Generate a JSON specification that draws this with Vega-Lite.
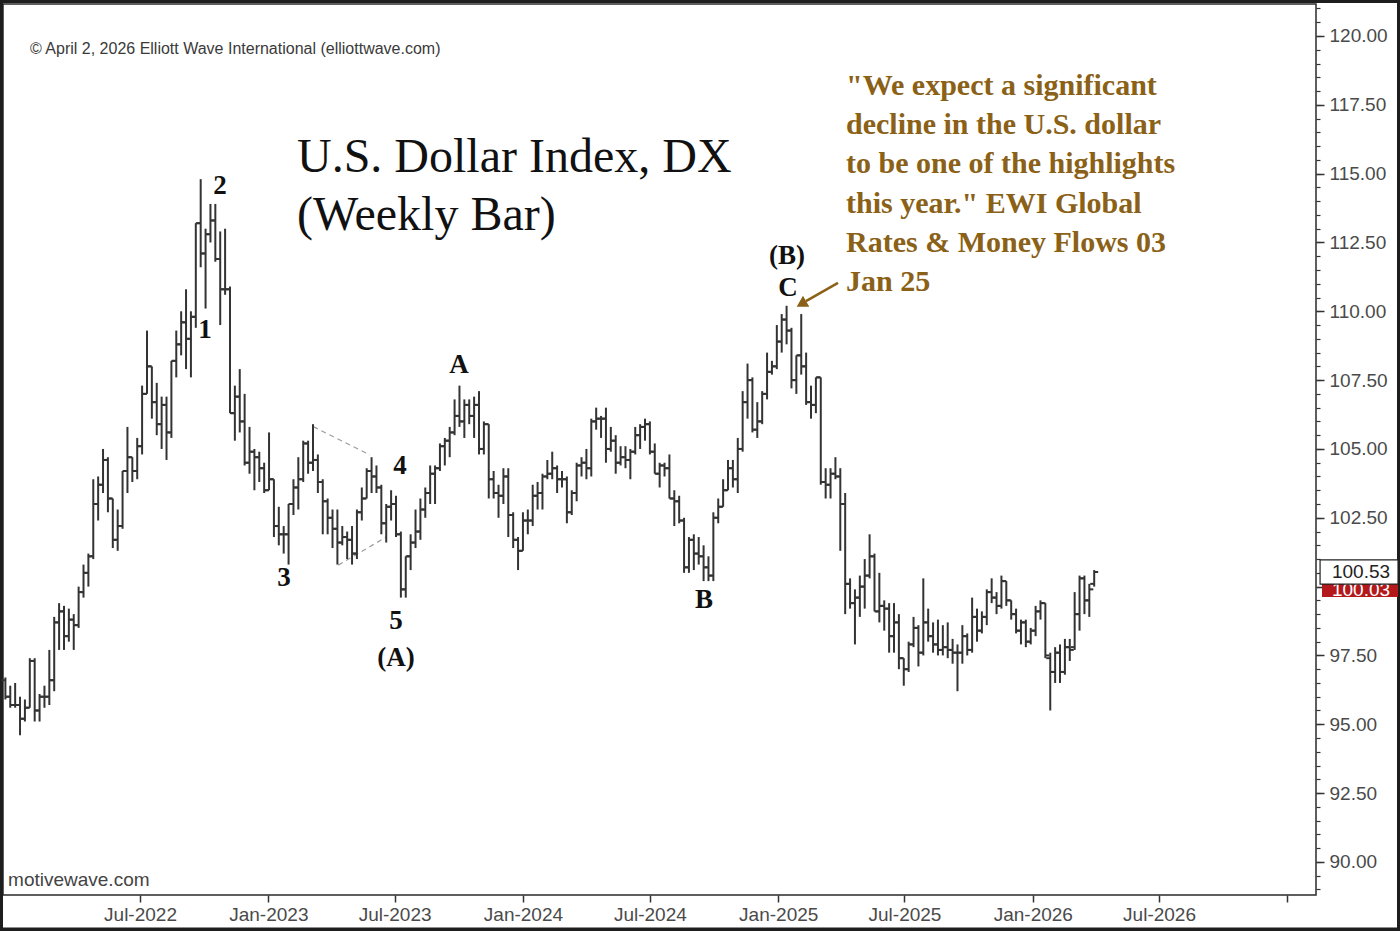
{
  "$schema": "https://vega.github.io/schema/vega-lite/v6.json",
  "description": "U.S. Dollar Index (DX) weekly OHLC bars with Elliott wave labels.",
  "width": 1313,
  "height": 891,
  "autosize": "none",
  "padding": {"left": 3, "top": 4, "right": 84, "bottom": 36},
  "background": "white",
  "config": {"view": {"stroke": "#2a2a2a", "strokeWidth": 1.5}},
  "datasets": {
    "bars": [
      {"d":"2021-12-20","o":96.6,"h":96.7,"l":95.9,"c":96.0},
      {"d":"2021-12-27","o":96.0,"h":96.4,"l":95.6,"c":95.7},
      {"d":"2022-01-03","o":95.7,"h":96.5,"l":95.6,"c":95.7},
      {"d":"2022-01-10","o":95.7,"h":96.0,"l":94.6,"c":95.2},
      {"d":"2022-01-17","o":95.2,"h":95.9,"l":95.1,"c":95.6},
      {"d":"2022-01-24","o":95.6,"h":97.4,"l":95.6,"c":97.3},
      {"d":"2022-01-31","o":97.3,"h":97.4,"l":95.1,"c":95.5},
      {"d":"2022-02-07","o":95.5,"h":96.1,"l":95.1,"c":96.0},
      {"d":"2022-02-14","o":96.0,"h":96.4,"l":95.6,"c":96.0},
      {"d":"2022-02-21","o":96.0,"h":97.7,"l":95.7,"c":96.6},
      {"d":"2022-02-28","o":96.6,"h":98.9,"l":96.2,"c":98.7},
      {"d":"2022-03-07","o":98.7,"h":99.4,"l":97.7,"c":99.1},
      {"d":"2022-03-14","o":99.1,"h":99.3,"l":97.7,"c":98.2},
      {"d":"2022-03-21","o":98.2,"h":99.2,"l":98.0,"c":98.8},
      {"d":"2022-03-28","o":98.8,"h":99.0,"l":97.7,"c":98.6},
      {"d":"2022-04-04","o":98.6,"h":100.0,"l":98.5,"c":99.8},
      {"d":"2022-04-11","o":99.8,"h":100.8,"l":99.6,"c":100.5},
      {"d":"2022-04-18","o":100.5,"h":101.2,"l":100.0,"c":101.1},
      {"d":"2022-04-25","o":101.1,"h":103.9,"l":101.0,"c":103.0},
      {"d":"2022-05-02","o":103.0,"h":104.0,"l":102.4,"c":103.7},
      {"d":"2022-05-09","o":103.7,"h":105.0,"l":103.4,"c":104.6},
      {"d":"2022-05-16","o":104.6,"h":104.7,"l":102.7,"c":103.2},
      {"d":"2022-05-23","o":103.2,"h":103.2,"l":101.4,"c":101.7},
      {"d":"2022-05-30","o":101.7,"h":102.8,"l":101.3,"c":102.2},
      {"d":"2022-06-06","o":102.2,"h":104.2,"l":102.1,"c":104.2},
      {"d":"2022-06-13","o":104.2,"h":105.8,"l":103.4,"c":104.7},
      {"d":"2022-06-20","o":104.7,"h":104.7,"l":103.8,"c":104.2},
      {"d":"2022-06-27","o":104.2,"h":105.4,"l":103.9,"c":105.1},
      {"d":"2022-07-04","o":105.1,"h":107.3,"l":104.8,"c":107.0},
      {"d":"2022-07-11","o":107.0,"h":109.3,"l":107.0,"c":108.0},
      {"d":"2022-07-18","o":108.0,"h":108.0,"l":106.1,"c":106.7},
      {"d":"2022-07-25","o":106.7,"h":107.4,"l":105.5,"c":105.9},
      {"d":"2022-08-01","o":105.9,"h":106.9,"l":105.0,"c":106.6},
      {"d":"2022-08-08","o":106.6,"h":106.9,"l":104.6,"c":105.6},
      {"d":"2022-08-15","o":105.6,"h":108.2,"l":105.4,"c":108.2},
      {"d":"2022-08-22","o":108.2,"h":109.3,"l":107.6,"c":108.8},
      {"d":"2022-08-29","o":108.8,"h":110.0,"l":108.4,"c":109.6},
      {"d":"2022-09-05","o":109.6,"h":110.8,"l":107.9,"c":109.0},
      {"d":"2022-09-12","o":109.0,"h":110.0,"l":107.6,"c":109.8},
      {"d":"2022-09-19","o":109.8,"h":113.2,"l":109.4,"c":113.2},
      {"d":"2022-09-26","o":113.2,"h":114.8,"l":111.6,"c":112.1},
      {"d":"2022-10-03","o":112.1,"h":113.0,"l":110.1,"c":112.8},
      {"d":"2022-10-10","o":112.8,"h":113.9,"l":112.5,"c":113.3},
      {"d":"2022-10-17","o":113.3,"h":113.9,"l":111.8,"c":111.9},
      {"d":"2022-10-24","o":111.9,"h":112.9,"l":109.5,"c":110.8},
      {"d":"2022-10-31","o":110.8,"h":113.0,"l":110.6,"c":110.8},
      {"d":"2022-11-07","o":110.8,"h":110.9,"l":106.3,"c":106.3},
      {"d":"2022-11-14","o":106.3,"h":107.3,"l":105.3,"c":106.9},
      {"d":"2022-11-21","o":106.9,"h":107.9,"l":105.6,"c":106.0},
      {"d":"2022-11-28","o":106.0,"h":107.0,"l":104.4,"c":104.5},
      {"d":"2022-12-05","o":104.5,"h":105.8,"l":104.1,"c":104.9},
      {"d":"2022-12-12","o":104.9,"h":105.0,"l":103.5,"c":104.7},
      {"d":"2022-12-19","o":104.7,"h":104.9,"l":103.8,"c":104.3},
      {"d":"2022-12-26","o":104.3,"h":104.5,"l":103.4,"c":103.5},
      {"d":"2023-01-02","o":103.5,"h":105.6,"l":103.5,"c":103.9},
      {"d":"2023-01-09","o":103.9,"h":103.9,"l":101.8,"c":102.2},
      {"d":"2023-01-16","o":102.2,"h":102.9,"l":101.5,"c":101.9},
      {"d":"2023-01-23","o":101.9,"h":102.2,"l":101.2,"c":101.9},
      {"d":"2023-01-30","o":101.9,"h":103.0,"l":100.8,"c":103.0},
      {"d":"2023-02-06","o":103.0,"h":103.9,"l":102.6,"c":103.6},
      {"d":"2023-02-13","o":103.6,"h":104.7,"l":102.8,"c":103.9},
      {"d":"2023-02-20","o":103.9,"h":105.3,"l":103.8,"c":105.2},
      {"d":"2023-02-27","o":105.2,"h":105.3,"l":104.1,"c":104.5},
      {"d":"2023-03-06","o":104.5,"h":105.9,"l":104.2,"c":104.6},
      {"d":"2023-03-13","o":104.6,"h":104.8,"l":103.4,"c":103.8},
      {"d":"2023-03-20","o":103.8,"h":103.9,"l":101.9,"c":103.1},
      {"d":"2023-03-27","o":103.1,"h":103.2,"l":101.9,"c":102.5},
      {"d":"2023-04-03","o":102.5,"h":102.8,"l":101.4,"c":102.1},
      {"d":"2023-04-10","o":102.1,"h":102.8,"l":100.8,"c":101.6},
      {"d":"2023-04-17","o":101.6,"h":102.2,"l":101.5,"c":101.8},
      {"d":"2023-04-24","o":101.8,"h":102.0,"l":101.0,"c":101.7},
      {"d":"2023-05-01","o":101.7,"h":102.2,"l":100.8,"c":101.2},
      {"d":"2023-05-08","o":101.2,"h":102.8,"l":101.0,"c":102.7},
      {"d":"2023-05-15","o":102.7,"h":103.6,"l":102.4,"c":103.2},
      {"d":"2023-05-22","o":103.2,"h":104.3,"l":103.2,"c":104.2},
      {"d":"2023-05-29","o":104.2,"h":104.7,"l":103.4,"c":104.0},
      {"d":"2023-06-05","o":104.0,"h":104.4,"l":103.4,"c":103.6},
      {"d":"2023-06-12","o":103.6,"h":103.7,"l":101.9,"c":102.3},
      {"d":"2023-06-19","o":102.3,"h":103.0,"l":101.6,"c":102.9},
      {"d":"2023-06-26","o":102.9,"h":103.5,"l":102.4,"c":103.0},
      {"d":"2023-07-03","o":103.0,"h":103.3,"l":101.8,"c":101.9},
      {"d":"2023-07-10","o":101.9,"h":102.0,"l":99.6,"c":99.9},
      {"d":"2023-07-17","o":99.9,"h":101.1,"l":99.6,"c":101.1},
      {"d":"2023-07-24","o":101.1,"h":101.9,"l":100.6,"c":101.6},
      {"d":"2023-07-31","o":101.6,"h":102.8,"l":101.4,"c":102.0},
      {"d":"2023-08-07","o":102.0,"h":103.2,"l":101.7,"c":102.8},
      {"d":"2023-08-14","o":102.8,"h":103.6,"l":102.5,"c":103.4},
      {"d":"2023-08-21","o":103.4,"h":104.4,"l":103.0,"c":104.1},
      {"d":"2023-08-28","o":104.1,"h":104.4,"l":103.0,"c":104.3},
      {"d":"2023-09-04","o":104.3,"h":105.2,"l":104.2,"c":105.1},
      {"d":"2023-09-11","o":105.1,"h":105.4,"l":104.4,"c":105.3},
      {"d":"2023-09-18","o":105.3,"h":105.8,"l":104.7,"c":105.6},
      {"d":"2023-09-25","o":105.6,"h":106.8,"l":105.5,"c":106.2},
      {"d":"2023-10-02","o":106.2,"h":107.3,"l":105.8,"c":106.0},
      {"d":"2023-10-09","o":106.0,"h":106.8,"l":105.4,"c":106.6},
      {"d":"2023-10-16","o":106.6,"h":106.8,"l":105.9,"c":106.2},
      {"d":"2023-10-23","o":106.2,"h":106.9,"l":105.4,"c":106.6},
      {"d":"2023-10-30","o":106.6,"h":107.1,"l":104.8,"c":105.0},
      {"d":"2023-11-06","o":105.0,"h":106.0,"l":104.8,"c":105.9},
      {"d":"2023-11-13","o":105.9,"h":105.9,"l":103.2,"c":103.9},
      {"d":"2023-11-20","o":103.9,"h":104.2,"l":103.2,"c":103.4},
      {"d":"2023-11-27","o":103.4,"h":103.7,"l":102.5,"c":103.3},
      {"d":"2023-12-04","o":103.3,"h":104.3,"l":103.0,"c":104.0},
      {"d":"2023-12-11","o":104.0,"h":104.3,"l":101.8,"c":102.6},
      {"d":"2023-12-18","o":102.6,"h":102.7,"l":101.4,"c":101.7},
      {"d":"2023-12-25","o":101.7,"h":101.8,"l":100.6,"c":101.3},
      {"d":"2024-01-01","o":101.3,"h":102.7,"l":101.3,"c":102.4},
      {"d":"2024-01-08","o":102.4,"h":102.8,"l":101.9,"c":102.4},
      {"d":"2024-01-15","o":102.4,"h":103.7,"l":102.2,"c":103.3},
      {"d":"2024-01-22","o":103.3,"h":103.8,"l":102.8,"c":103.4},
      {"d":"2024-01-29","o":103.4,"h":104.1,"l":102.8,"c":104.0},
      {"d":"2024-02-05","o":104.0,"h":104.6,"l":103.9,"c":104.1},
      {"d":"2024-02-12","o":104.1,"h":104.9,"l":103.9,"c":104.3},
      {"d":"2024-02-19","o":104.3,"h":104.4,"l":103.4,"c":103.9},
      {"d":"2024-02-26","o":103.9,"h":104.2,"l":103.6,"c":103.9},
      {"d":"2024-03-04","o":103.9,"h":104.0,"l":102.3,"c":102.7},
      {"d":"2024-03-11","o":102.7,"h":103.5,"l":102.6,"c":103.4},
      {"d":"2024-03-18","o":103.4,"h":104.5,"l":103.1,"c":104.4},
      {"d":"2024-03-25","o":104.4,"h":104.7,"l":104.0,"c":104.5},
      {"d":"2024-04-01","o":104.5,"h":105.0,"l":103.9,"c":104.3},
      {"d":"2024-04-08","o":104.3,"h":106.1,"l":104.0,"c":106.0},
      {"d":"2024-04-15","o":106.0,"h":106.5,"l":105.7,"c":106.1},
      {"d":"2024-04-22","o":106.1,"h":106.2,"l":105.4,"c":106.1},
      {"d":"2024-04-29","o":106.1,"h":106.5,"l":104.5,"c":105.0},
      {"d":"2024-05-06","o":105.0,"h":105.8,"l":104.9,"c":105.3},
      {"d":"2024-05-13","o":105.3,"h":105.5,"l":104.1,"c":104.5},
      {"d":"2024-05-20","o":104.5,"h":105.1,"l":104.4,"c":104.7},
      {"d":"2024-05-27","o":104.7,"h":105.1,"l":104.3,"c":104.6},
      {"d":"2024-06-03","o":104.6,"h":105.0,"l":103.9,"c":104.9},
      {"d":"2024-06-10","o":104.9,"h":105.8,"l":104.8,"c":105.5},
      {"d":"2024-06-17","o":105.5,"h":105.9,"l":105.0,"c":105.8},
      {"d":"2024-06-24","o":105.8,"h":106.1,"l":105.3,"c":105.9},
      {"d":"2024-07-01","o":105.9,"h":106.0,"l":104.8,"c":104.9},
      {"d":"2024-07-08","o":104.9,"h":105.2,"l":104.1,"c":104.1},
      {"d":"2024-07-15","o":104.1,"h":104.5,"l":103.6,"c":104.4},
      {"d":"2024-07-22","o":104.4,"h":104.5,"l":104.0,"c":104.3},
      {"d":"2024-07-29","o":104.3,"h":104.8,"l":103.2,"c":103.2},
      {"d":"2024-08-05","o":103.2,"h":103.5,"l":102.2,"c":103.1},
      {"d":"2024-08-12","o":103.1,"h":103.3,"l":102.3,"c":102.4},
      {"d":"2024-08-19","o":102.4,"h":102.5,"l":100.5,"c":100.7},
      {"d":"2024-08-26","o":100.7,"h":101.8,"l":100.5,"c":101.7},
      {"d":"2024-09-02","o":101.7,"h":101.9,"l":100.6,"c":101.2},
      {"d":"2024-09-09","o":101.2,"h":101.8,"l":100.8,"c":101.1},
      {"d":"2024-09-16","o":101.1,"h":101.5,"l":100.2,"c":100.7},
      {"d":"2024-09-23","o":100.7,"h":101.1,"l":100.2,"c":100.4},
      {"d":"2024-09-30","o":100.4,"h":102.7,"l":100.2,"c":102.5},
      {"d":"2024-10-07","o":102.5,"h":103.2,"l":102.3,"c":102.9},
      {"d":"2024-10-14","o":102.9,"h":103.9,"l":102.9,"c":103.5},
      {"d":"2024-10-21","o":103.5,"h":104.6,"l":103.5,"c":104.3},
      {"d":"2024-10-28","o":104.3,"h":104.6,"l":103.6,"c":103.9},
      {"d":"2024-11-04","o":103.9,"h":105.4,"l":103.4,"c":105.0},
      {"d":"2024-11-11","o":105.0,"h":107.1,"l":104.9,"c":106.7},
      {"d":"2024-11-18","o":106.7,"h":108.1,"l":106.1,"c":107.5},
      {"d":"2024-11-25","o":107.5,"h":107.6,"l":105.6,"c":105.7},
      {"d":"2024-12-02","o":105.7,"h":106.7,"l":105.4,"c":106.0},
      {"d":"2024-12-09","o":106.0,"h":107.1,"l":105.9,"c":107.0},
      {"d":"2024-12-16","o":107.0,"h":108.5,"l":106.8,"c":107.8},
      {"d":"2024-12-23","o":107.8,"h":108.2,"l":107.7,"c":108.0},
      {"d":"2024-12-30","o":108.0,"h":109.5,"l":107.9,"c":108.9},
      {"d":"2025-01-06","o":108.9,"h":109.9,"l":108.5,"c":109.7},
      {"d":"2025-01-13","o":109.7,"h":110.2,"l":108.8,"c":109.3},
      {"d":"2025-01-20","o":109.3,"h":109.4,"l":107.2,"c":107.5},
      {"d":"2025-01-27","o":107.5,"h":108.4,"l":107.0,"c":108.4},
      {"d":"2025-02-03","o":108.4,"h":109.9,"l":107.7,"c":108.0},
      {"d":"2025-02-10","o":108.0,"h":108.5,"l":106.6,"c":106.7},
      {"d":"2025-02-17","o":106.7,"h":107.3,"l":106.1,"c":106.6},
      {"d":"2025-02-24","o":106.6,"h":107.6,"l":106.3,"c":107.6},
      {"d":"2025-03-03","o":107.6,"h":107.6,"l":103.7,"c":103.8},
      {"d":"2025-03-10","o":103.8,"h":104.3,"l":103.2,"c":103.7},
      {"d":"2025-03-17","o":103.7,"h":104.3,"l":103.2,"c":104.1},
      {"d":"2025-03-24","o":104.1,"h":104.7,"l":103.9,"c":104.0},
      {"d":"2025-03-31","o":104.0,"h":104.3,"l":101.3,"c":103.0},
      {"d":"2025-04-07","o":103.0,"h":103.4,"l":99.0,"c":100.1},
      {"d":"2025-04-14","o":100.1,"h":100.3,"l":99.2,"c":99.4},
      {"d":"2025-04-21","o":99.4,"h":99.9,"l":97.9,"c":99.6},
      {"d":"2025-04-28","o":99.6,"h":100.4,"l":98.9,"c":100.0},
      {"d":"2025-05-05","o":100.0,"h":101.0,"l":99.2,"c":100.4},
      {"d":"2025-05-12","o":100.4,"h":101.9,"l":100.3,"c":101.1},
      {"d":"2025-05-19","o":101.1,"h":101.2,"l":99.1,"c":99.1},
      {"d":"2025-05-26","o":99.1,"h":100.5,"l":98.7,"c":99.3},
      {"d":"2025-06-02","o":99.3,"h":99.5,"l":98.4,"c":99.2},
      {"d":"2025-06-09","o":99.2,"h":99.4,"l":97.6,"c":98.2},
      {"d":"2025-06-16","o":98.2,"h":99.4,"l":97.6,"c":98.7},
      {"d":"2025-06-23","o":98.7,"h":99.0,"l":97.0,"c":97.4},
      {"d":"2025-06-30","o":97.4,"h":97.4,"l":96.4,"c":97.0},
      {"d":"2025-07-07","o":97.0,"h":98.0,"l":96.9,"c":97.9},
      {"d":"2025-07-14","o":97.9,"h":98.9,"l":97.8,"c":98.5},
      {"d":"2025-07-21","o":98.5,"h":98.6,"l":97.1,"c":97.6},
      {"d":"2025-07-28","o":97.6,"h":100.3,"l":97.5,"c":98.7},
      {"d":"2025-08-04","o":98.7,"h":99.2,"l":98.0,"c":98.2},
      {"d":"2025-08-11","o":98.2,"h":98.7,"l":97.6,"c":97.9},
      {"d":"2025-08-18","o":97.9,"h":98.8,"l":97.5,"c":97.7},
      {"d":"2025-08-25","o":97.7,"h":98.6,"l":97.5,"c":97.8},
      {"d":"2025-09-01","o":97.8,"h":98.7,"l":97.4,"c":97.7},
      {"d":"2025-09-08","o":97.7,"h":98.1,"l":97.2,"c":97.6},
      {"d":"2025-09-15","o":97.6,"h":97.9,"l":96.2,"c":97.6},
      {"d":"2025-09-22","o":97.6,"h":98.6,"l":97.2,"c":98.2},
      {"d":"2025-09-29","o":98.2,"h":98.3,"l":97.5,"c":97.7},
      {"d":"2025-10-06","o":97.7,"h":99.6,"l":97.6,"c":98.9},
      {"d":"2025-10-13","o":98.9,"h":99.2,"l":98.0,"c":98.4},
      {"d":"2025-10-20","o":98.4,"h":99.1,"l":98.3,"c":98.9},
      {"d":"2025-10-27","o":98.9,"h":99.9,"l":98.6,"c":99.8},
      {"d":"2025-11-03","o":99.8,"h":100.3,"l":99.4,"c":99.6},
      {"d":"2025-11-10","o":99.6,"h":99.8,"l":99.0,"c":99.3},
      {"d":"2025-11-17","o":99.3,"h":100.4,"l":99.2,"c":100.2},
      {"d":"2025-11-24","o":100.2,"h":100.2,"l":99.3,"c":99.5},
      {"d":"2025-12-01","o":99.5,"h":99.5,"l":98.8,"c":99.0},
      {"d":"2025-12-08","o":99.0,"h":99.2,"l":98.3,"c":98.4},
      {"d":"2025-12-15","o":98.4,"h":98.8,"l":97.9,"c":98.7},
      {"d":"2025-12-22","o":98.7,"h":98.8,"l":97.8,"c":98.0},
      {"d":"2025-12-29","o":98.0,"h":98.5,"l":97.9,"c":98.4},
      {"d":"2026-01-05","o":98.4,"h":99.3,"l":98.2,"c":99.1},
      {"d":"2026-01-12","o":99.1,"h":99.5,"l":98.8,"c":99.4},
      {"d":"2026-01-19","o":99.4,"h":99.4,"l":97.4,"c":97.5},
      {"d":"2026-01-26","o":97.4,"h":97.6,"l":95.5,"c":96.9},
      {"d":"2026-02-02","o":96.9,"h":97.8,"l":96.5,"c":97.6},
      {"d":"2026-02-09","o":97.6,"h":97.9,"l":96.5,"c":96.9},
      {"d":"2026-02-16","o":96.9,"h":98.1,"l":96.8,"c":97.8},
      {"d":"2026-02-23","o":97.8,"h":98.1,"l":97.3,"c":97.7},
      {"d":"2026-03-02","o":97.8,"h":99.8,"l":97.7,"c":99.0},
      {"d":"2026-03-09","o":99.0,"h":100.4,"l":98.4,"c":100.3},
      {"d":"2026-03-16","o":100.3,"h":100.4,"l":99.0,"c":99.5},
      {"d":"2026-03-23","o":99.5,"h":100.1,"l":98.9,"c":99.9},
      {"d":"2026-03-30","o":100.1,"h":100.6,"l":100.0,"c":100.53}
    ],
    "channel": [
      {"seg":"top","d":"2023-03-06T12:00:00Z","v":105.81},
      {"seg":"top","d":"2023-05-26T16:00:00Z","v":104.78},
      {"seg":"bottom","d":"2023-04-11T08:00:00Z","v":100.78},
      {"seg":"bottom","d":"2023-06-19T16:00:00Z","v":101.81}
    ],
    "waves": [
      {"t":"2","d":"2022-10-23T16:00:00Z","v":114.55},
      {"t":"1","d":"2022-10-02T05:00:00Z","v":109.32},
      {"t":"3","d":"2023-01-23T12:00:00Z","v":100.31},
      {"t":"4","d":"2023-07-08T19:00:00Z","v":104.38},
      {"t":"5","d":"2023-07-03T00:00:00Z","v":98.75},
      {"t":"(A)","d":"2023-07-03T00:00:00Z","v":97.41},
      {"t":"A","d":"2023-10-01T07:00:00Z","v":108.05},
      {"t":"B","d":"2024-09-16T14:00:00Z","v":99.51},
      {"t":"(B)","d":"2025-01-13T14:00:00Z","v":112.01},
      {"t":"C","d":"2025-01-15T00:00:00Z","v":110.85}
    ],
    "title": [
      {"t":"U.S. Dollar Index, DX","d":"2023-02-11T02:00:00Z","v":115.06},
      {"t":"(Weekly Bar)","d":"2023-02-11T02:00:00Z","v":112.95}
    ],
    "quote": [
      {"t":"\"We expect a significant","d":"2025-04-08T05:00:00Z","v":117.857},
      {"t":"decline in the U.S. dollar","d":"2025-04-08T05:00:00Z","v":116.433},
      {"t":"to be one of the highlights","d":"2025-04-08T05:00:00Z","v":115.009},
      {"t":"this year.\" EWI Global","d":"2025-04-08T05:00:00Z","v":113.585},
      {"t":"Rates & Money Flows 03","d":"2025-04-08T05:00:00Z","v":112.161},
      {"t":"Jan 25","d":"2025-04-08T05:00:00Z","v":110.737}
    ],
    "arrow": [
      {"d":"2025-03-27T17:00:00Z","v":111.03},
      {"d":"2025-02-09T19:00:00Z","v":110.37}
    ],
    "arrowhead": [
      {"d":"2025-02-05T12:00:00Z","v":110.30}
    ]
  },
  "layer": [
    {
      "data": {"values": [{"d":"2021-12-13T17:00:00Z","d2":"2027-06-10T00:00:00Z","v":121.27,"v2":87.545}]},
      "mark": {"type": "rect", "fill": null, "stroke": "#1e1e1e", "strokeWidth": 4, "clip": false},
      "encoding": {
        "x": {"field": "d", "type": "temporal", "axis": null,
              "scale": {"type": "utc", "domain": [{"year":2021,"month":12,"date":16,"hours":14,"utc":true},{"year":2027,"month":2,"date":11,"utc":true}]}},
        "x2": {"field": "d2"},
        "y": {"field": "v", "type": "quantitative", "axis": null,
              "scale": {"domain": [88.798, 121.162], "nice": false, "zero": false}},
        "y2": {"field": "v2"}
      }
    },
    {
      "data": {"name": "channel"},
      "mark": {"type": "line", "color": "#9c9c9c", "strokeWidth": 1.2, "strokeDash": [5, 4]},
      "encoding": {
        "x": {"field": "d", "type": "temporal", "axis": null,
              "scale": {"type": "utc", "domain": [{"year":2021,"month":12,"date":16,"hours":14,"utc":true},{"year":2027,"month":2,"date":11,"utc":true}]}},
        "y": {"field": "v", "type": "quantitative", "axis": null,
              "scale": {"domain": [88.798, 121.162], "nice": false, "zero": false}},
        "detail": {"field": "seg"}
      }
    },
    {
      "data": {"name": "bars"},
      "mark": {"type": "rule", "color": "#333333", "strokeWidth": 2},
      "encoding": {
        "x": {"field": "d", "type": "temporal",
              "scale": {"type": "utc", "domain": [{"year":2021,"month":12,"date":16,"hours":14,"utc":true},{"year":2027,"month":2,"date":11,"utc":true}]},
              "axis": {"orient": "bottom", "title": null, "grid": false, "domain": false,
                       "values": [{"year":2022,"month":7,"date":1,"utc":true},{"year":2023,"month":1,"date":1,"utc":true},{"year":2023,"month":7,"date":1,"utc":true},{"year":2024,"month":1,"date":1,"utc":true},{"year":2024,"month":7,"date":1,"utc":true},{"year":2025,"month":1,"date":1,"utc":true},{"year":2025,"month":7,"date":1,"utc":true},{"year":2026,"month":1,"date":1,"utc":true},{"year":2026,"month":7,"date":1,"utc":true},{"year":2027,"month":1,"date":1,"utc":true}],
                       "format": "%b-%Y", "labelExpr": "utcyear(datum.value) > 2026 ? '' : datum.label",
                       "labelFont": "Liberation Sans", "labelFontSize": 19, "labelColor": "#4a4a4a",
                       "labelPadding": 3, "tickSize": 7, "tickColor": "#333333", "tickWidth": 1.5,
                       "labelOverlap": false, "labelBound": false, "labelFlush": false}},
        "y": {"field": "l", "type": "quantitative",
              "scale": {"domain": [88.798, 121.162], "nice": false, "zero": false},
              "axis": {"orient": "right", "title": null, "grid": false, "domain": false,
                       "values": [90, 92.5, 95, 97.5, 100, 102.5, 105, 107.5, 110, 112.5, 115, 117.5, 120],
                       "format": ".2f", "labelFont": "Liberation Sans", "labelFontSize": 19, "labelColor": "#4a4a4a",
                       "labelPadding": 5, "tickSize": 8, "tickColor": "#333333", "tickWidth": 1.5,
                       "labelOverlap": false, "labelBound": false, "labelFlush": false}},
        "y2": {"field": "h"}
      }
    },
    {
      "data": {"name": "bars"},
      "mark": {"type": "rule", "color": "#333333", "strokeWidth": 2, "xOffset": -4, "x2Offset": 0},
      "encoding": {
        "x": {"field": "d", "type": "temporal", "axis": null,
              "scale": {"type": "utc", "domain": [{"year":2021,"month":12,"date":16,"hours":14,"utc":true},{"year":2027,"month":2,"date":11,"utc":true}]}},
        "x2": {"field": "d"},
        "y": {"field": "o", "type": "quantitative",
              "scale": {"domain": [88.798, 121.162], "nice": false, "zero": false},
              "axis": {"orient": "right", "title": null, "grid": false, "domain": false, "labels": false,
                       "values": [89, 89.5, 90, 90.5, 91, 91.5, 92, 92.5, 93, 93.5, 94, 94.5, 95, 95.5, 96, 96.5, 97, 97.5, 98, 98.5, 99, 99.5, 100, 100.5, 101, 101.5, 102, 102.5, 103, 103.5, 104, 104.5, 105, 105.5, 106, 106.5, 107, 107.5, 108, 108.5, 109, 109.5, 110, 110.5, 111, 111.5, 112, 112.5, 113, 113.5, 114, 114.5, 115, 115.5, 116, 116.5, 117, 117.5, 118, 118.5, 119, 119.5, 120, 120.5, 121],
                       "tickSize": 4, "tickColor": "#333333", "tickWidth": 1.2}}
      }
    },
    {
      "data": {"name": "bars"},
      "mark": {"type": "rule", "color": "#333333", "strokeWidth": 2, "xOffset": 0, "x2Offset": 4},
      "encoding": {
        "x": {"field": "d", "type": "temporal", "axis": null,
              "scale": {"type": "utc", "domain": [{"year":2021,"month":12,"date":16,"hours":14,"utc":true},{"year":2027,"month":2,"date":11,"utc":true}]}},
        "x2": {"field": "d"},
        "y": {"field": "c", "type": "quantitative", "axis": null,
              "scale": {"domain": [88.798, 121.162], "nice": false, "zero": false}}
      }
    },
    {
      "data": {"name": "waves"},
      "mark": {"type": "text", "font": "Liberation Serif", "fontWeight": "bold", "fontSize": 27, "color": "#111111", "align": "center", "baseline": "middle"},
      "encoding": {
        "x": {"field": "d", "type": "temporal", "axis": null,
              "scale": {"type": "utc", "domain": [{"year":2021,"month":12,"date":16,"hours":14,"utc":true},{"year":2027,"month":2,"date":11,"utc":true}]}},
        "y": {"field": "v", "type": "quantitative", "axis": null,
              "scale": {"domain": [88.798, 121.162], "nice": false, "zero": false}},
        "text": {"field": "t"}
      }
    },
    {
      "data": {"name": "title"},
      "mark": {"type": "text", "font": "Liberation Serif", "fontSize": 48, "color": "#111111", "align": "left", "baseline": "alphabetic"},
      "encoding": {
        "x": {"field": "d", "type": "temporal", "axis": null,
              "scale": {"type": "utc", "domain": [{"year":2021,"month":12,"date":16,"hours":14,"utc":true},{"year":2027,"month":2,"date":11,"utc":true}]}},
        "y": {"field": "v", "type": "quantitative", "axis": null,
              "scale": {"domain": [88.798, 121.162], "nice": false, "zero": false}},
        "text": {"field": "t"}
      }
    },
    {
      "data": {"name": "quote"},
      "mark": {"type": "text", "font": "Liberation Serif", "fontWeight": "bold", "fontSize": 30, "color": "#8a6117", "align": "left", "baseline": "alphabetic"},
      "encoding": {
        "x": {"field": "d", "type": "temporal", "axis": null,
              "scale": {"type": "utc", "domain": [{"year":2021,"month":12,"date":16,"hours":14,"utc":true},{"year":2027,"month":2,"date":11,"utc":true}]}},
        "y": {"field": "v", "type": "quantitative", "axis": null,
              "scale": {"domain": [88.798, 121.162], "nice": false, "zero": false}},
        "text": {"field": "t"}
      }
    },
    {
      "data": {"name": "arrow"},
      "mark": {"type": "line", "color": "#8a6117", "strokeWidth": 2.5},
      "encoding": {
        "x": {"field": "d", "type": "temporal", "axis": null,
              "scale": {"type": "utc", "domain": [{"year":2021,"month":12,"date":16,"hours":14,"utc":true},{"year":2027,"month":2,"date":11,"utc":true}]}},
        "y": {"field": "v", "type": "quantitative", "axis": null,
              "scale": {"domain": [88.798, 121.162], "nice": false, "zero": false}}
      }
    },
    {
      "data": {"name": "arrowhead"},
      "mark": {"type": "point", "shape": "triangle", "filled": true, "size": 160, "angle": 240, "color": "#8a6117", "opacity": 1},
      "encoding": {
        "x": {"field": "d", "type": "temporal", "axis": null,
              "scale": {"type": "utc", "domain": [{"year":2021,"month":12,"date":16,"hours":14,"utc":true},{"year":2027,"month":2,"date":11,"utc":true}]}},
        "y": {"field": "v", "type": "quantitative", "axis": null,
              "scale": {"domain": [88.798, 121.162], "nice": false, "zero": false}}
      }
    },
    {
      "data": {"values": [{"t":"© April 2, 2026 Elliott Wave International (elliottwave.com)","d":"2022-01-24T07:00:00Z","v":119.53}]},
      "mark": {"type": "text", "font": "Liberation Sans", "fontSize": 16, "color": "#3a3a3a", "align": "left", "baseline": "middle"},
      "encoding": {
        "x": {"field": "d", "type": "temporal", "axis": null,
              "scale": {"type": "utc", "domain": [{"year":2021,"month":12,"date":16,"hours":14,"utc":true},{"year":2027,"month":2,"date":11,"utc":true}]}},
        "y": {"field": "v", "type": "quantitative", "axis": null,
              "scale": {"domain": [88.798, 121.162], "nice": false, "zero": false}},
        "text": {"field": "t"}
      }
    },
    {
      "data": {"values": [{"t":"motivewave.com","d":"2021-12-23T20:00:00Z","v":89.34}]},
      "mark": {"type": "text", "font": "Liberation Sans", "fontSize": 19, "color": "#444444", "align": "left", "baseline": "middle"},
      "encoding": {
        "x": {"field": "d", "type": "temporal", "axis": null,
              "scale": {"type": "utc", "domain": [{"year":2021,"month":12,"date":16,"hours":14,"utc":true},{"year":2027,"month":2,"date":11,"utc":true}]}},
        "y": {"field": "v", "type": "quantitative", "axis": null,
              "scale": {"domain": [88.798, 121.162], "nice": false, "zero": false}},
        "text": {"field": "t"}
      }
    },
    {
      "data": {"values": [{"d":"2027-02-19T14:00:00Z","d2":"2027-06-08T14:00:00Z","v":100.09,"v2":99.62}]},
      "mark": {"type": "rect", "fill": "#b3191c", "clip": false},
      "encoding": {
        "x": {"field": "d", "type": "temporal", "axis": null,
              "scale": {"type": "utc", "domain": [{"year":2021,"month":12,"date":16,"hours":14,"utc":true},{"year":2027,"month":2,"date":11,"utc":true}]}},
        "x2": {"field": "d2"},
        "y": {"field": "v", "type": "quantitative", "axis": null,
              "scale": {"domain": [88.798, 121.162], "nice": false, "zero": false}},
        "y2": {"field": "v2"}
      }
    },
    {
      "data": {"values": [{"t":"100.03","d":"2027-04-16T12:00:00Z","v":99.86}]},
      "mark": {"type": "text", "font": "Liberation Sans", "fontSize": 19, "color": "white", "align": "center", "baseline": "middle"},
      "encoding": {
        "x": {"field": "d", "type": "temporal", "axis": null,
              "scale": {"type": "utc", "domain": [{"year":2021,"month":12,"date":16,"hours":14,"utc":true},{"year":2027,"month":2,"date":11,"utc":true}]}},
        "y": {"field": "v", "type": "quantitative", "axis": null,
              "scale": {"domain": [88.798, 121.162], "nice": false, "zero": false}},
        "text": {"field": "t"}
      }
    },
    {
      "data": {"values": [{"d":"2027-02-16T20:00:00Z","d2":"2027-06-08T14:00:00Z","v":100.97,"v2":100.09}]},
      "mark": {"type": "rect", "fill": "white", "stroke": "#222222", "strokeWidth": 1.2, "clip": false},
      "encoding": {
        "x": {"field": "d", "type": "temporal", "axis": null,
              "scale": {"type": "utc", "domain": [{"year":2021,"month":12,"date":16,"hours":14,"utc":true},{"year":2027,"month":2,"date":11,"utc":true}]}},
        "x2": {"field": "d2"},
        "y": {"field": "v", "type": "quantitative", "axis": null,
              "scale": {"domain": [88.798, 121.162], "nice": false, "zero": false}},
        "y2": {"field": "v2"}
      }
    },
    {
      "data": {"values": [{"t":"100.53","d":"2027-04-16T12:00:00Z","v":100.53}]},
      "mark": {"type": "text", "font": "Liberation Sans", "fontSize": 19, "color": "#222222", "align": "center", "baseline": "middle"},
      "encoding": {
        "x": {"field": "d", "type": "temporal", "axis": null,
              "scale": {"type": "utc", "domain": [{"year":2021,"month":12,"date":16,"hours":14,"utc":true},{"year":2027,"month":2,"date":11,"utc":true}]}},
        "y": {"field": "v", "type": "quantitative", "axis": null,
              "scale": {"domain": [88.798, 121.162], "nice": false, "zero": false}},
        "text": {"field": "t"}
      }
    }
  ],
  "resolve": {"axis": {"x": "independent", "y": "independent"}}
}
